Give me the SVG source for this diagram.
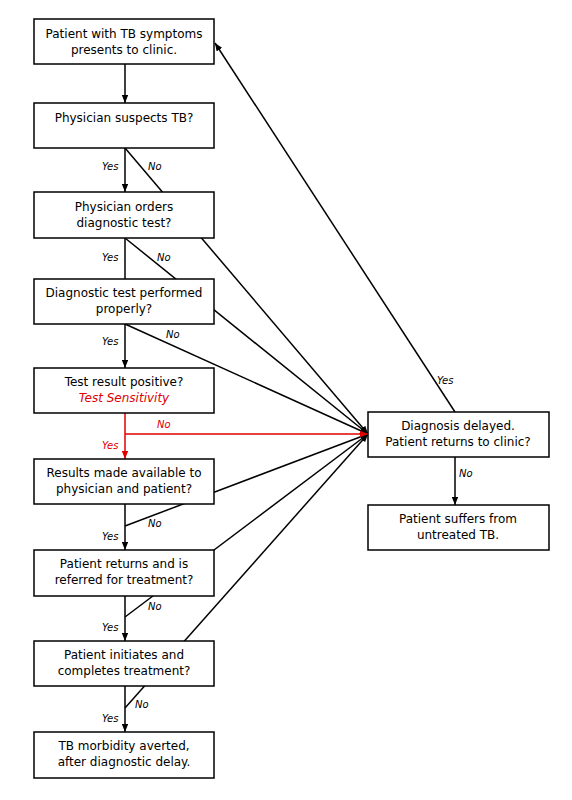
<svg xmlns="http://www.w3.org/2000/svg" width="572" height="800" viewBox="0 0 572 800">
<defs>
<style>
.box{fill:#fff;stroke:#000;stroke-width:1.5}
.t{font-family:"DejaVu Sans",Verdana,sans-serif;font-size:12px;text-anchor:middle;fill:#000}
.lbl{font-family:"DejaVu Sans",Verdana,sans-serif;font-size:10px;font-style:italic;fill:#000}
.red{fill:#e00000}
.c{stroke:#000;stroke-width:1.5;fill:none}
.cr{stroke:#e00000;stroke-width:1.5;fill:none}
</style>
<marker id="ah" viewBox="0 0 10 10" refX="10" refY="5" markerWidth="8" markerHeight="6.5" markerUnits="userSpaceOnUse" orient="auto" preserveAspectRatio="none">
<path d="M0,0 L10,5 L0,10 z" fill="#000"/>
</marker>
<marker id="ahr" viewBox="0 0 10 10" refX="10" refY="5" markerWidth="8" markerHeight="6.5" markerUnits="userSpaceOnUse" orient="auto" preserveAspectRatio="none">
<path d="M0,0 L10,5 L0,10 z" fill="#e00000"/>
</marker>
</defs>
<rect width="572" height="800" fill="#fff"/>
<g id="connectors">
<line class="c" x1="125" y1="64" x2="125" y2="103" marker-end="url(#ah)"/>
<line class="c" x1="125" y1="148" x2="125" y2="192" marker-end="url(#ah)"/>
<line class="c" x1="125" y1="148" x2="368" y2="434" marker-end="url(#ah)"/>
<line class="c" x1="125" y1="238" x2="125" y2="279"/>
<line class="c" x1="125" y1="238" x2="368" y2="434" marker-end="url(#ah)"/>
<line class="c" x1="125" y1="324" x2="125" y2="368" marker-end="url(#ah)"/>
<line class="c" x1="125" y1="324" x2="368" y2="434" marker-end="url(#ah)"/>
<line class="c" x1="125" y1="504" x2="125" y2="550" marker-end="url(#ah)"/>
<line class="c" x1="125" y1="526" x2="368" y2="434" marker-end="url(#ah)"/>
<line class="c" x1="125" y1="596" x2="125" y2="641" marker-end="url(#ah)"/>
<line class="c" x1="125" y1="617" x2="368" y2="434" marker-end="url(#ah)"/>
<line class="c" x1="125" y1="686" x2="125" y2="732" marker-end="url(#ah)"/>
<line class="c" x1="125" y1="708" x2="368" y2="434" marker-end="url(#ah)"/>
<line class="c" x1="455" y1="412" x2="215" y2="43" marker-end="url(#ah)"/>
<line class="c" x1="455" y1="457" x2="455" y2="505" marker-end="url(#ah)"/>
<line class="cr" x1="125" y1="413" x2="125" y2="459" marker-end="url(#ahr)"/>
<line class="cr" x1="125" y1="434" x2="368" y2="434" marker-end="url(#ahr)"/>
</g>
<g id="labels">
<text class="lbl" x="102" y="170">Yes</text>
<text class="lbl" x="148" y="170">No</text>
<text class="lbl" x="102" y="261">Yes</text>
<text class="lbl" x="157" y="261">No</text>
<text class="lbl" x="102" y="345">Yes</text>
<text class="lbl" x="166" y="338">No</text>
<text class="lbl red" x="157" y="428">No</text>
<text class="lbl red" x="102" y="449">Yes</text>
<text class="lbl" x="148" y="527">No</text>
<text class="lbl" x="102" y="540">Yes</text>
<text class="lbl" x="148" y="610">No</text>
<text class="lbl" x="102" y="631">Yes</text>
<text class="lbl" x="135" y="708">No</text>
<text class="lbl" x="102" y="722">Yes</text>
<text class="lbl" x="437" y="384">Yes</text>
<text class="lbl" x="459" y="477">No</text>
</g>
<g id="n1"><rect class="box" x="34" y="19" width="180" height="45"/>
<text class="t" x="124" y="38">Patient with TB symptoms</text><text class="t" x="124" y="54">presents to clinic.</text></g>
<g id="n2"><rect class="box" x="34" y="103" width="180" height="45"/>
<text class="t" x="124" y="122">Physician suspects TB?</text></g>
<g id="n3"><rect class="box" x="34" y="192" width="180" height="46"/>
<text class="t" x="124" y="211">Physician orders</text><text class="t" x="124" y="227">diagnostic test?</text></g>
<g id="n4"><rect class="box" x="34" y="279" width="180" height="45"/>
<text class="t" x="124" y="297">Diagnostic test performed</text><text class="t" x="124" y="313">properly?</text></g>
<g id="n5"><rect class="box" x="34" y="368" width="180" height="45"/>
<text class="t" x="124" y="386">Test result positive?</text><text class="t red" x="124" y="402" font-style="italic">Test Sensitivity</text></g>
<g id="n6"><rect class="box" x="34" y="459" width="180" height="45"/>
<text class="t" x="124" y="477">Results made available to</text><text class="t" x="124" y="493">physician and patient?</text></g>
<g id="n7"><rect class="box" x="34" y="550" width="180" height="46"/>
<text class="t" x="124" y="568">Patient returns and is</text><text class="t" x="124" y="584">referred for treatment?</text></g>
<g id="n8"><rect class="box" x="34" y="641" width="180" height="45"/>
<text class="t" x="124" y="659">Patient initiates and</text><text class="t" x="124" y="675">completes treatment?</text></g>
<g id="n9"><rect class="box" x="34" y="732" width="180" height="46"/>
<text class="t" x="124" y="750">TB morbidity averted,</text><text class="t" x="124" y="766">after diagnostic delay.</text></g>
<g id="n10"><rect class="box" x="368" y="412" width="181" height="45"/>
<text class="t" x="458" y="430">Diagnosis delayed.</text><text class="t" x="458" y="446">Patient returns to clinic?</text></g>
<g id="n11"><rect class="box" x="368" y="505" width="181" height="45"/>
<text class="t" x="458" y="523">Patient suffers from</text><text class="t" x="458" y="539">untreated TB.</text></g>
</svg>
